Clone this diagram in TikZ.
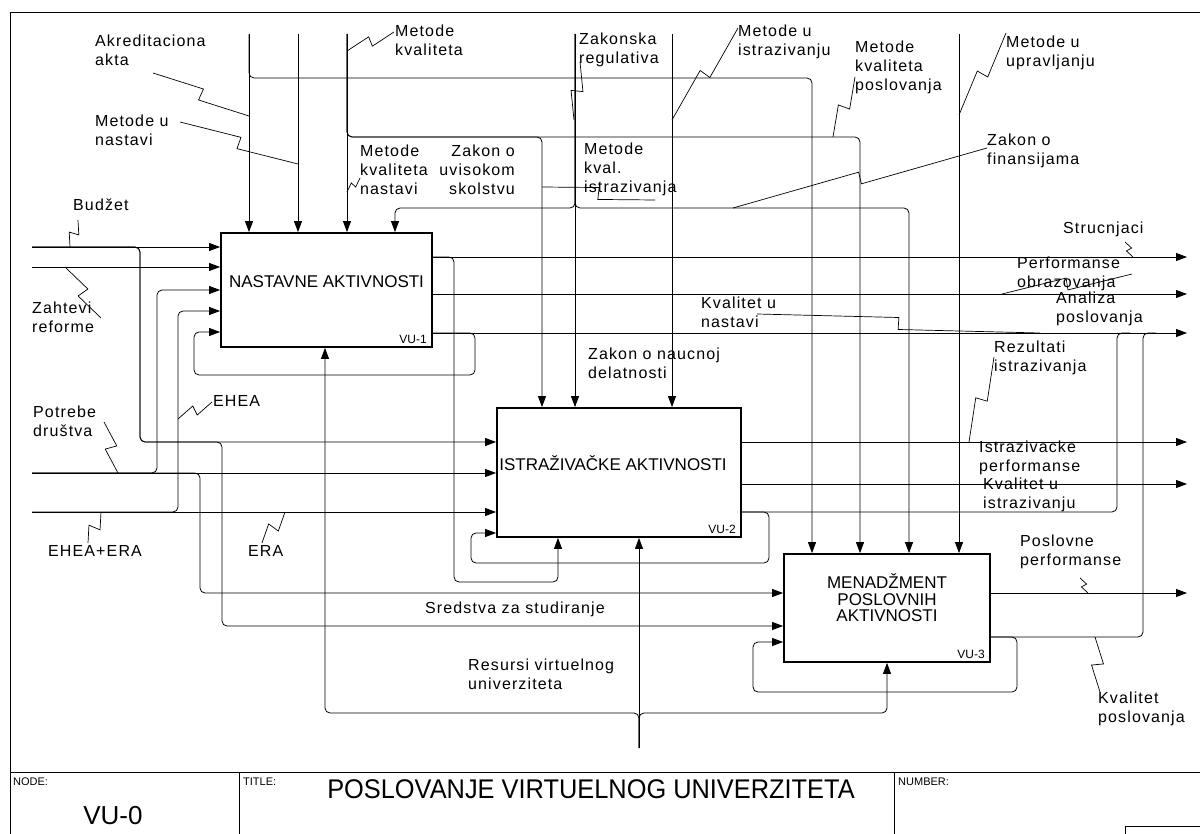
\documentclass[tikz,border=0pt]{standalone}
\usepackage{fontspec}
\setmainfont{Liberation Sans}
\newfontfamily\lblfont[LetterSpace=7]{Liberation Sans}
\usetikzlibrary{arrows.meta}
\usetikzlibrary{calc}
\usetikzlibrary{positioning}

\tikzset{
  act/.style={draw, line width=1.8pt, inner sep=0pt},
  acttitle/.style={font=\fontsize{17}{16.5}\selectfont, align=center, inner sep=0pt},
  vutag/.style={font=\fontsize{12}{12}\selectfont, inner sep=0pt},
  lbl/.style={font=\lblfont\fontsize{16}{19}\selectfont, inner sep=0pt, anchor=north west, align=left},
  flow/.style={line width=0.8pt, -{Triangle[length=11pt,width=8pt]}, rounded corners=5pt},
  pipe/.style={line width=0.8pt, rounded corners=5pt},
  leader/.style={line width=0.7pt},
  cornerlbl/.style={font=\fontsize{11}{11}\selectfont, inner sep=0pt, anchor=north west}
}

% zigzag leader between a label and its arrow
\newcommand{\squig}[3][6pt]{%
  \draw[leader] (#2) -- ($(#2)!.5!(#3)!#1!90:(#3)$)
    -- ($(#2)!.5!(#3)!#1!-90:(#3)$) -- (#3);}

\begin{document}
\begin{tikzpicture}[x=1pt, y=-1pt]
	\useasboundingbox (0,0) rectangle (1200,834);
	\clip (0,0) rectangle (1200,834);

	% frame and title block
	\draw[line width=0.8pt] (10,12) rectangle (1230,860);
	\draw[line width=0.8pt] (10,772) -- (1230,772);
	\draw[line width=0.8pt] (239,772) -- (239,860);
	\draw[line width=0.8pt] (894,772) -- (894,860);
	\draw[line width=0.8pt] (1125,826) rectangle (1230,860);
	\node[cornerlbl] (nodelbl) at (13,778) {NODE:};
	\node[cornerlbl] (titlelbl) at (243,778) {TITLE:};
	\node[cornerlbl] (numlbl) at (898,778) {NUMBER:};
	\node[font=\fontsize{26}{26}\selectfont] (nodeno) at (113,816) {VU-0};
	\node[font=\fontsize{27}{27}\selectfont] (title) at (591,789)
		{\scalebox{0.94}[1]{POSLOVANJE VIRTUELNOG UNIVERZITETA}};

	% activities
	\node[act, minimum width=211pt, minimum height=114pt] (b1) at (326.5,290) {};
	\node[act, minimum width=244pt, minimum height=129pt] (b2) at (619,472.5) {};
	\node[act, minimum width=206pt, minimum height=108pt] (b3) at (887,608) {};
	\node[acttitle] (t1) at ([yshift=8pt]b1.center) {NASTAVNE AKTIVNOSTI};
	\node[acttitle] (t2) at ([yshift=9pt,xshift=-6pt]b2.center) {ISTRAŽIVAČKE AKTIVNOSTI};
	\node[acttitle] (t3) at ([yshift=10pt]b3.center) {MENADŽMENT\\POSLOVNIH\\AKTIVNOSTI};
	\node[vutag, above left=4pt and 6pt of b1.south east] (n1) {VU-1};
	\node[vutag, above left=4pt and 6pt of b2.south east] (n2) {VU-2};
	\node[vutag, above left=4pt and 6pt of b3.south east] (n3) {VU-3};

	% free ends
	\foreach \n/\x/\y in {in-bud/32/247, in-zah/32/267, in-pot/32/473, in-eh/32/512,
	                      c-akr/249/34, c-nas/298/34, c-kva/347/34, c-zak/575/34,
	                      c-ist/672/34, c-upr/959/34, m-res/639/748,
	                      o-str/1187/257, o-per/1187/294, o-ana/1187/333,
	                      o-ip/1187/442, o-kvi/1187/484, o-pos/1187/593}
		\coordinate (\n) at (\x,\y);

	% inputs
	\draw[flow] (in-bud) -- (b1.west |- in-bud);
	\draw[flow] (in-zah) -- (b1.west |- in-zah);
	\draw[flow] (in-pot) -- (b2.west |- in-pot);
	\draw[flow] (in-eh) -- (b2.west |- in-eh);
	\draw[flow] (in-bud) -| (140,442) -- (b2.west |- 0,442);
	\draw[flow] (in-bud) -| (140,442) -| (222,626) -- (b3.west |- 0,626);
	\draw[flow] (in-pot) -| (157,290) -- (b1.west |- 0,290);
	\draw[flow] (in-pot) -| (200,593) -- (b3.west |- 0,593);
	\draw[flow] (in-eh) -| (178,311) -- (b1.west |- 0,311);

	% controls
	\draw[flow] (c-akr) -- (b1.north -| c-akr);
	\draw[flow] (c-akr) |- (812,78) -- (b3.north -| 812,0);
	\draw[flow] (c-nas) -- (b1.north -| c-nas);
	\draw[flow] (c-kva) -- (b1.north -| c-kva);
	\draw[flow] (c-kva) |- (542,137) -- (b2.north -| 542,0);
	\draw[flow] (c-kva) |- (860,137) -- (b3.north -| 860,0);
	\draw[flow] (c-zak) -- (b2.north -| c-zak);
	\draw[flow] (c-zak) |- (395,208) -- (b1.north -| 395,0);
	\draw[flow] (c-zak) |- (909,208) -- (b3.north -| 909,0);
	\draw[flow] (c-ist) -- (b2.north -| c-ist);
	\draw[flow] (c-upr) -- (b3.north -| c-upr);

	% outputs and feedback
	\draw[flow] (b1.east |- o-str) -- (o-str);
	\draw[flow] (b1.east |- o-per) -- (o-per);
	\draw[flow] (b1.east |- o-ana) -- (o-ana);
	\draw[flow] (b1.east |- o-str) -| (454,582) -| (b2.south -| 558,0);
	\draw[flow] (b1.east |- o-ana) -| (475,375) -| (194,332) -- (b1.west |- 0,332);
	\draw[flow] (b2.east |- o-ip) -- (o-ip);
	\draw[flow] (b2.east |- o-kvi) -- (o-kvi);
	\draw[pipe] (b2.east |- 0,512) -| (1117,333) -- (1130,333);
	\draw[flow] (b2.east |- 0,512) -| (769,563) -| (471,533) -- (b2.west |- 0,533);
	\draw[flow] (b3.east |- o-pos) -- (o-pos);
	\draw[pipe] (b3.east |- 0,637) -| (1143,333) -- (1156,333);
	\draw[flow] (b3.east |- 0,637) -| (1017,692) -| (753,642) -- (b3.west |- 0,642);

	% mechanisms
	\draw[flow] (m-res) -- (b2.south -| m-res);
	\draw[flow] (m-res) |- (325,713) -- (b1.south -| 325,0);
	\draw[flow] (m-res) |- (887,713) -- (b3.south -| 887,0);

	% labels
	\node[lbl] (l-akr) at (95,35) {Akreditaciona\\akta};
	\node[lbl] (l-nas) at (95,115) {Metode u\\nastavi};
	\node[lbl] (l-kva) at (395,25) {Metode\\kvaliteta};
	\node[lbl] (l-kvn) at (360,145) {Metode\\kvaliteta\\nastavi};
	\node[lbl, anchor=north east, align=right] (l-zuv) at (515,145) {Zakon o\\uvisokom\\skolstvu};
	\node[lbl] (l-zak) at (579,33) {Zakonska\\regulativa};
	\node[lbl] (l-mki) at (584,143) {Metode\\kval.\\istrazivanja};
	\node[lbl] (l-ist) at (738,25) {Metode u\\istrazivanju};
	\node[lbl] (l-kvp) at (855,41) {Metode\\kvaliteta\\poslovanja};
	\node[lbl] (l-upr) at (1006,36) {Metode u\\upravljanju};
	\node[lbl] (l-fin) at (987,134) {Zakon o\\finansijama};
	\node[lbl] (l-bud) at (73,199) {Budžet};
	\node[lbl] (l-zah) at (32,302) {Zahtevi\\reforme};
	\node[lbl] (l-pot) at (33,406) {Potrebe\\društva};
	\node[lbl] (l-ehea) at (213,395) {EHEA};
	\node[lbl] (l-eher) at (48,545) {EHEA+ERA};
	\node[lbl] (l-era) at (248,545) {ERA};
	\node[lbl] (l-zn) at (588,348) {Zakon o naucnoj\\delatnosti};
	\node[lbl] (l-kvn2) at (701,297) {Kvalitet u\\nastavi};
	\node[lbl] (l-str) at (1063,222) {Strucnjaci};
	\node[lbl] (l-per) at (1017,257) {Performanse\\obrazovanja};
	\node[lbl] (l-ana) at (1056,292) {Analiza\\poslovanja};
	\node[lbl] (l-rez) at (994,341) {Rezultati\\istrazivanja};
	\node[lbl] (l-ip) at (979,441) {Istrazivacke\\performanse};
	\node[lbl] (l-kvi) at (983,478) {Kvalitet u\\istrazivanju};
	\node[lbl] (l-pos) at (1020,535) {Poslovne\\performanse};
	\node[lbl] (l-kpos) at (1098,692) {Kvalitet\\poslovanja};
	\node[lbl] (l-sre) at (425,602) {Sredstva za studiranje};
	\node[lbl] (l-res) at (468,659) {Resursi virtuelnog\\univerziteta};

	% leaders
	\foreach \n/\ax/\ay/\bx/\by/\d in {akr/249/116/153/73/6pt, nas/298/164/180/122/6pt,
	          kva/347/51/394/32/5pt, kvn/347/192/360/178/3pt, mki/542/187/655/200/6pt,
	          zak/574/120/580/62/6pt, ist/672/120/738/28/6pt, kvp/833/137/855/77/6pt,
	          upr/959/115/1006/33/6pt, fin/733/208/987/148/6pt, bud/70/247/78/220/5pt,
	          zah/65/267/101/318/6pt, pot/118/473/104/422/6pt, ehea/178/419/212/402/5pt,
	          eher/101/512/88/543/6pt, era/285/512/262/543/6pt, str/1133/257/1125/242/3pt,
	          per/1002/294/1132/274/6pt, kvn2/1040/333/757/314/6pt, rez/969/442/994/357/6pt,
	          pos/1088/593/1080/578/3pt, kpos/1095/637/1100/692/6pt}
	{
		\coordinate (\n-a) at (\ax,\ay);
		\coordinate (\n-b) at (\bx,\by);
		\squig[\d]{\n-a}{\n-b}
	}
\end{tikzpicture}
\end{document}
